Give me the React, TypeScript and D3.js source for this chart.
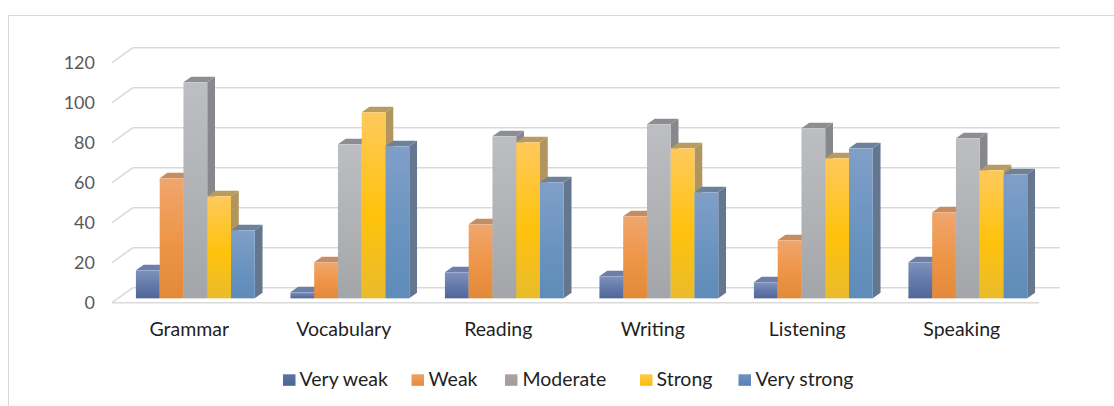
import React from "react";
import * as d3 from "d3";

const categories = ["Grammar", "Vocabulary", "Reading", "Writing", "Listening", "Speaking"];
const seriesNames = ["Very weak", "Weak", "Moderate", "Strong", "Very strong"];
const veryWeak = [14, 3, 13, 11, 8, 18];
const weak = [60, 18, 37, 41, 29, 43];
const moderate = [108, 77, 81, 87, 85, 80];
const strong = [51, 93, 78, 75, 70, 64];
const veryStrong = [34, 76, 58, 53, 75, 62];
const yTicks = [0, 20, 40, 60, 80, 100, 120];

const seriesValues = [veryWeak, weak, moderate, strong, veryStrong];

// styles per series: gradient stops (top, mid, bottom), side, top face, legend swatch
const styles = [
  { g: ["#7f92bd", "#6378a8", "#4f6797"], side: "#56678d", top: "#6d7fa9", sw: ["#5a74a3", "#4a6494"] },
  { g: ["#f0a66d", "#ee9446", "#e2893a"], side: "#c08a60", top: "#c58d62", sw: ["#f0a064", "#e8893a"] },
  { g: ["#bdbec1", "#b0b1b4", "#a4a5a8"], side: "#87888c", top: "#8d8e92", sw: ["#aca4a2", "#a39b98"] },
  { g: ["#fec95c", "#ffc20c", "#e9bb2c"], side: "#b0955e", top: "#b99b62", sw: ["#ffcb45", "#f8bd10"] },
  { g: ["#809fc8", "#6a94c0", "#5e8bb8"], side: "#64778f", top: "#6e819b", sw: ["#6b93c0", "#5783b2"] },
];

const W = 1114;
const H = 406;
const x0 = 112;
const x1 = 1039;
const floorY = 302.7;
const depthDX = 21;
const depthDY = -15;
const barFront = 0.29;
const barDepth = 0.37;

export default function App() {
  const xBand = d3.scaleBand<string>().domain(categories).range([x0, x1]).paddingInner(0).paddingOuter(0);
  const xSeries = d3
    .scaleBand<string>()
    .domain(seriesNames)
    .range([0, xBand.bandwidth()])
    .paddingInner(0)
    .paddingOuter(0.75);
  const yH = d3.scaleLinear().domain([0, 120]).range([0, 240]);

  const fx = barFront * depthDX;
  const fy = barFront * depthDY;
  const bdx = barDepth * depthDX;
  const bdy = barDepth * depthDY;
  const baseY = floorY + fy;

  const font = "Lato, 'Open Sans', sans-serif";

  const legendPos = [
    { sx: 283, tx: 299.5 },
    { sx: 411.5, tx: 428.5 },
    { sx: 505, tx: 522.5 },
    { sx: 640, tx: 656.5 },
    { sx: 738.5, tx: 755.5 },
  ];

  return (
    <svg width={W} height={H} style={{ position: "absolute", left: 0, top: 0, background: "#fff" }}>
      <defs>
        {styles.map((s, i) => (
          <linearGradient key={i} id={`grad${i}`} x1="0" y1="0" x2="0" y2="1">
            <stop offset="0%" stopColor={s.g[0]} />
            <stop offset="55%" stopColor={s.g[1]} />
            <stop offset="100%" stopColor={s.g[2]} />
          </linearGradient>
        ))}
        {styles.map((s, i) => (
          <linearGradient key={`l${i}`} id={`lg${i}`} x1="0" y1="0" x2="0" y2="1">
            <stop offset="0%" stopColor={s.sw[0]} />
            <stop offset="100%" stopColor={s.sw[1]} />
          </linearGradient>
        ))}
      </defs>
      <rect x={8.5} y={15.5} width={W + 20} height={H + 20} fill="none" stroke="#d9d9d9" strokeWidth={1} />

      {/* back wall gridlines with left diagonals */}
      {yTicks.map((t) => {
        const yF = floorY - yH(t);
        const yB = yF + depthDY;
        return (
          <g key={t}>
            <line x1={x0} y1={yF} x2={x0 + depthDX} y2={yB} stroke="#d9d9d9" strokeWidth={1.5} />
            <line x1={x0 + depthDX} y1={yB} x2={x1 + depthDX} y2={yB} stroke="#d9d9d9" strokeWidth={1.5} />
            <text
              x={95}
              y={yF + 6.5}
              textAnchor="end"
              fontFamily={font}
              fontSize={18}
              fill="#595959"
            >
              {t}
            </text>
          </g>
        );
      })}
      {/* floor front line */}
      <line x1={x0} y1={floorY} x2={x1} y2={floorY} stroke="#d9d9d9" strokeWidth={1.5} />

      {/* bars */}
      {categories.map((c, ci) => (
        <g key={c}>
          {seriesNames.map((s, si) => {
            const v = seriesValues[si][ci];
            const bx = (xBand(c) ?? 0) + (xSeries(s) ?? 0) + fx;
            const bw = xSeries.bandwidth();
            const h = yH(v);
            const topY = baseY - h;
            const side = `M${bx + bw},${baseY} L${bx + bw + bdx},${baseY + bdy} L${bx + bw + bdx},${topY + bdy} L${bx + bw},${topY} Z`;
            const top = `M${bx},${topY} L${bx + bdx},${topY + bdy} L${bx + bw + bdx},${topY + bdy} L${bx + bw},${topY} Z`;
            return (
              <g key={s}>
                <path d={side} fill={styles[si].side} />
                <path d={top} fill={styles[si].top} />
                <rect x={bx} y={topY} width={bw} height={h} fill={`url(#grad${si})`} />
              </g>
            );
          })}
          <text
            x={(xBand(c) ?? 0) + xBand.bandwidth() / 2}
            y={336}
            textAnchor="middle"
            fontFamily={font}
            fontSize={19.5}
            fill="#1f1f1f"
          >
            {c}
          </text>
        </g>
      ))}

      {/* legend */}
      {seriesNames.map((s, i) => (
        <g key={s}>
          <rect x={legendPos[i].sx} y={374.3} width={12.5} height={11.5} fill={`url(#lg${i})`} />
          <text x={legendPos[i].tx} y={385.7} fontFamily={font} fontSize={19.5} fill="#1f1f1f">
            {s}
          </text>
        </g>
      ))}
    </svg>
  );
}
